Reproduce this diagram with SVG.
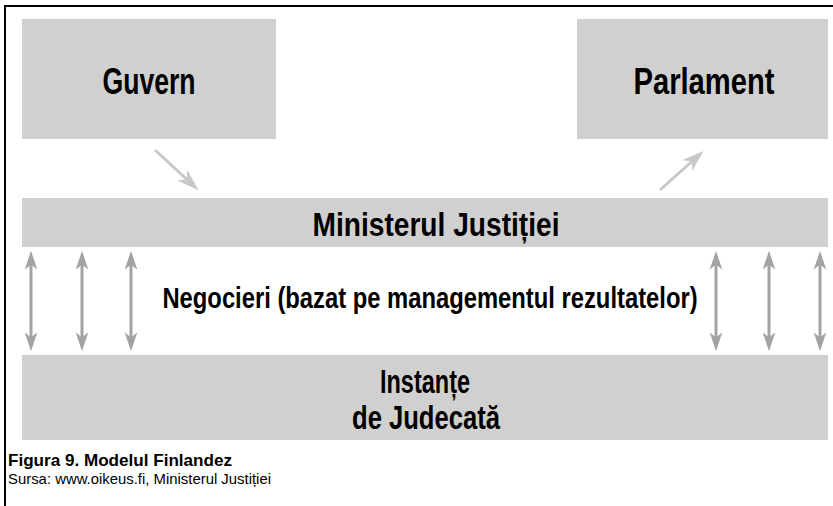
<svg xmlns="http://www.w3.org/2000/svg" width="833" height="506" viewBox="0 0 833 506">
<style>
.box{fill:#d0d0d0}
.t{font-family:"Liberation Sans Narrow","Liberation Sans",Arial,sans-serif;font-weight:bold;fill:#000;text-anchor:middle}
.c{font-family:"Liberation Sans Narrow","Liberation Sans",Arial,sans-serif;fill:#000}
.va{stroke:#a3a3a3;stroke-width:3;fill:none;marker-start:url(#hv);marker-end:url(#hv)}
.da{stroke:#c8c8c8;stroke-width:3;fill:none;marker-end:url(#hd)}
</style>
<defs>
<marker id="hv" viewBox="0 0 18 12" markerWidth="19" markerHeight="13" refX="13" refY="6" orient="auto-start-reverse" markerUnits="userSpaceOnUse">
<path d="M0,0 L18,6 L0,12 L5,6 z" fill="#a3a3a3"/>
</marker>
<marker id="hd" viewBox="0 0 18 12" markerWidth="22" markerHeight="15" refX="13" refY="6" orient="auto" markerUnits="userSpaceOnUse">
<path d="M0,0 L18,6 L0,12 L5,6 z" fill="#c8c8c8"/>
</marker>
</defs>
<rect width="833" height="506" fill="#fff"/>
<g id="frame" fill="none" stroke="#000" stroke-width="2">
<path d="M5,506 V6 H833"/>
</g>
<g id="guvern">
<rect class="box" x="22" y="19" width="254" height="120"/>
<text class="t" x="149" y="94" font-size="36" textLength="93" lengthAdjust="spacingAndGlyphs">Guvern</text>
</g>
<g id="parlament">
<rect class="box" x="577" y="19" width="251" height="120"/>
<text class="t" x="704" y="94" font-size="36" textLength="141" lengthAdjust="spacingAndGlyphs">Parlament</text>
</g>
<g id="ministerul">
<rect class="box" x="22" y="198" width="806" height="49"/>
<text class="t" x="436" y="236" font-size="34" textLength="247" lengthAdjust="spacingAndGlyphs">Ministerul Justiției</text>
</g>
<g id="negocieri">
<text class="t" transform="translate(430,308) scale(0.77,1)" x="0" y="0" font-size="30" textLength="695" lengthAdjust="spacingAndGlyphs">Negocieri (bazat pe managementul rezultatelor)</text>
</g>
<g id="instante">
<rect class="box" x="22" y="355" width="806" height="85"/>
<text class="t" x="425" y="393" font-size="34" textLength="90" lengthAdjust="spacingAndGlyphs">Instanțe</text>
<text class="t" x="426" y="429" font-size="34" textLength="148" lengthAdjust="spacingAndGlyphs">de Judecată</text>
</g>
<g id="connectors">
<path class="da" d="M155,150 L194,186"/>
<path class="da" d="M660,190 L699,155"/>
<path class="va" d="M31,256 V346"/>
<path class="va" d="M82,256 V346"/>
<path class="va" d="M131,256 V346"/>
<path class="va" d="M716,256 V346"/>
<path class="va" d="M769,256 V346"/>
<path class="va" d="M820,256 V346"/>
</g>
<g id="caption">
<text class="c" x="8" y="466" font-weight="bold" font-size="17" textLength="224" lengthAdjust="spacingAndGlyphs">Figura 9. Modelul Finlandez</text>
<text class="c" x="8" y="484" font-size="15" textLength="263" lengthAdjust="spacingAndGlyphs">Sursa: www.oikeus.fi, Ministerul Justiției</text>
</g>
</svg>
